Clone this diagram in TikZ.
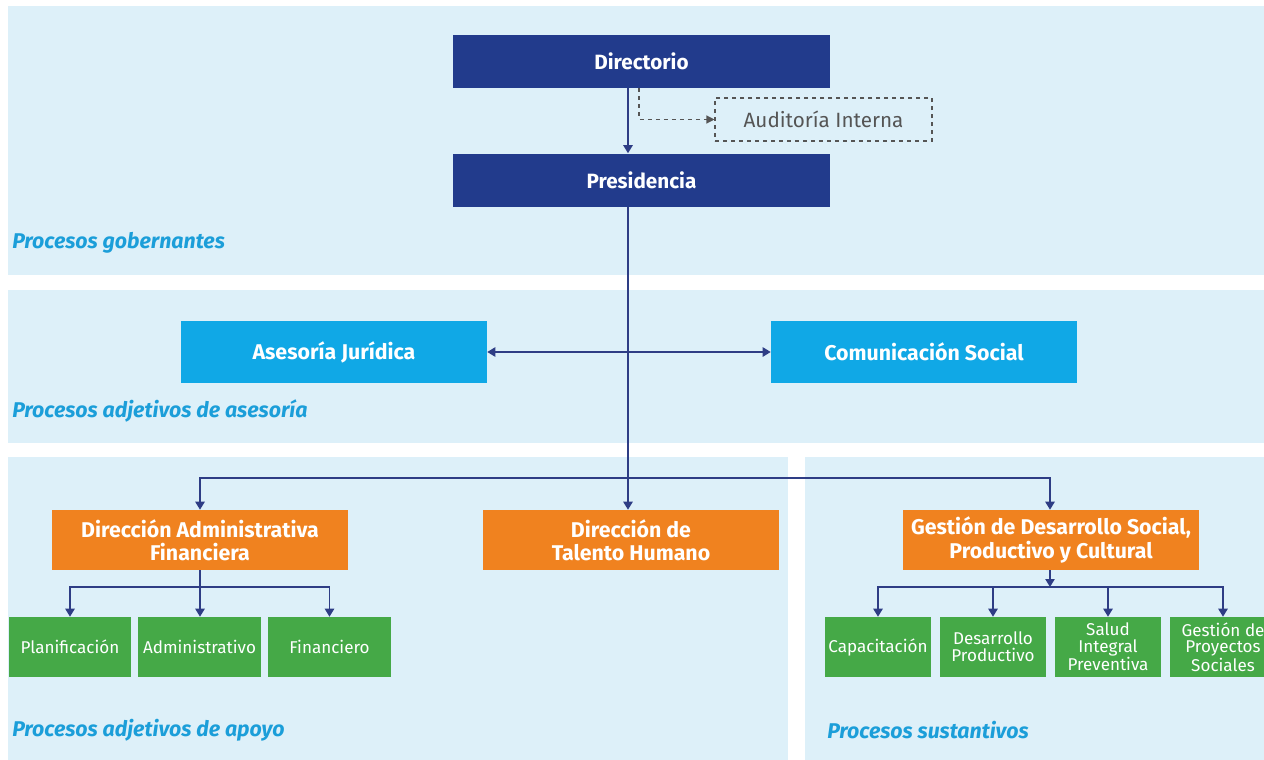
\documentclass[tikz,border=0pt]{standalone}
\usepackage{fontspec}
\setmainfont{Fira Sans}
\usetikzlibrary{arrows.meta,calc}
\definecolor{panelbg}{HTML}{DDF0F9}
\definecolor{navy}{HTML}{223B8C}
\definecolor{sky}{HTML}{10A8E6}
\definecolor{orangebox}{HTML}{F0821F}
\definecolor{greenbox}{HTML}{45A947}
\definecolor{labelblue}{HTML}{1B9ED9}
\definecolor{arrowc}{HTML}{2E3D85}
\definecolor{dashc}{HTML}{555555}
\begin{document}
\begin{tikzpicture}[x=0.75pt,y=-0.75pt,
  panel/.style={fill=panelbg,draw=none},
  navybox/.style={fill=navy,text=white,font=\fontsize{15.5}{18}\selectfont\bfseries,minimum width=282.75pt,minimum height=39.75pt,inner sep=0pt},
  skybox/.style={fill=sky,text=white,font=\fontsize{16}{18}\selectfont\bfseries,minimum width=229.5pt,minimum height=46.5pt,inner sep=0pt},
  orgbox/.style={fill=orangebox,text=white,font=\fontsize{16}{17.5}\selectfont\bfseries,minimum width=222pt,minimum height=45pt,inner sep=0pt,align=center},
  grnbox/.style={fill=greenbox,text=white,font=\fontsize{12.8}{12.5}\selectfont,minimum height=45pt,inner sep=0pt,align=center},
  dashbox/.style={draw=dashc,dashed,line width=0.8pt,text=dashc,font=\fontsize{15.5}{18}\selectfont,minimum width=162.75pt,minimum height=32.25pt,inner sep=0pt},
  proclabel/.style={text=labelblue,font=\fontsize{16}{18}\selectfont\bfseries\itshape,anchor=west,inner sep=0pt},
  conn/.style={draw=arrowc,line width=1.1pt},
  arr/.style={conn,-{Triangle[length=6pt,width=7pt]}},
  darr/.style={draw=dashc,line width=0.9pt,dashed,-{Triangle[length=6pt,width=6pt]}}
]
\useasboundingbox (0,0) rectangle (1264,760);
\fill[white] (0,0) rectangle (1264,760);
% panels
\fill[panel] (8,6) rectangle (1264,275);
\fill[panel] (8,290) rectangle (1264,443);
\fill[panel] (8,457) rectangle (788,760);
\fill[panel] (805,457) rectangle (1264,760);

% process labels
\node[proclabel] (lg) at (12,243) {Procesos gobernantes};
\node[proclabel] (la) at (12,411) {Procesos adjetivos de asesoría};
\node[proclabel] (lp) at (12,730) {Procesos adjetivos de apoyo};
\node[proclabel] (ls) at (827,730) {Procesos sustantivos};

% top nodes
\node[navybox] (dir) at (641.5,61.5) {Directorio};
\node[navybox] (pres) at (641.5,180) {Presidencia};
\node[dashbox] (aud) at (823.5,119.5) {Auditoría Interna};

% advisory
\node[skybox] (aj) at (334,352) {Asesoría Jurídica};
\node[skybox] (cs) at (924,352) {Comunicación Social};

% directions
\node[orgbox] (daf) at (200,540) {Dirección Administrativa\\Financiera};
\node[orgbox] (dth) at (631,540) {Dirección de\\Talento Humano};
\node[orgbox] (gds) at (1051,540) {Gestión de Desarrollo Social,\\Productivo y Cultural};

% green left
\node[grnbox,minimum width=91.5pt] (plan) at (70,647) {Planificación};
\node[grnbox,minimum width=92.25pt] (adm) at (199.5,647) {Administrativo};
\node[grnbox,minimum width=92.25pt] (fin) at (329.5,647) {Financiero};

% green right
\node[grnbox,minimum width=79.5pt] (cap) at (878,647) {Capacitación};
\node[grnbox,minimum width=79.5pt] (dp) at (993,647) {Desarrollo\\Productivo};
\node[grnbox,minimum width=79.5pt] (sip) at (1108,647) {Salud\\Integral\\Preventiva};
\node[grnbox,minimum width=79.5pt] (gps) at (1223,647) {Gestión de\\Proyectos\\Sociales};

% connectors
\coordinate (trunk) at (628,0);
\coordinate (dx) at (639,0);
\coordinate (bar) at (628,478);
\coordinate (barL) at (200,587);
\coordinate (barR) at (1050,587);

\draw[arr] (dir.south -| trunk) -- (pres.north -| trunk);
\draw[darr] (dir.south -| dx) |- (aud.west);
\draw[conn] (pres.south -| trunk) -- (bar);
\draw[arr] (trunk |- aj.east) -- (aj.east);
\draw[arr] (trunk |- cs.west) -- (cs.west);
\draw[arr] (bar) -| (daf.north -| barL);
\draw[arr] (bar) -- (dth.north -| bar);
\draw[arr] (bar) -| (gds.north -| barR);

\draw[conn] (daf.south -| barL) -- (barL);
\draw[arr] (barL) -| (plan.north);
\draw[arr] (barL) -- (adm.north -| barL);
\draw[arr] (barL) -| (fin.north);

\draw[arr] (gds.south -| barR) -- (barR);
\draw[arr] (barR) -| (cap.north);
\draw[arr] (barR) -| (dp.north);
\draw[arr] (barR) -| (sip.north);
\draw[arr] (barR) -| (gps.north);
\end{tikzpicture}
\end{document}
